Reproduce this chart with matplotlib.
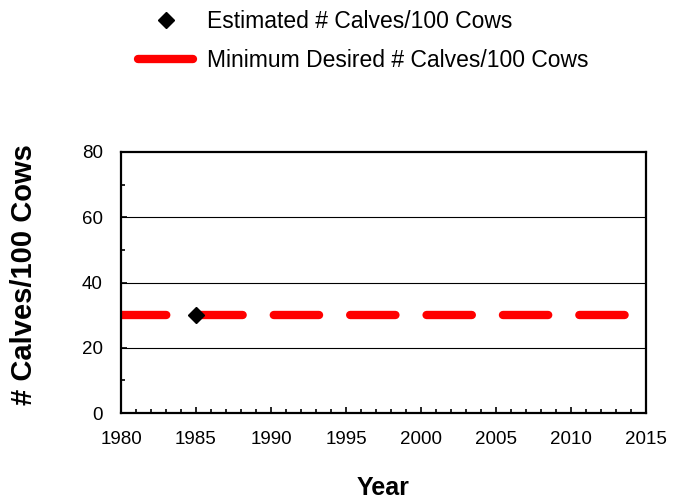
import matplotlib
matplotlib.use("Agg")
import matplotlib.pyplot as plt
from matplotlib.ticker import MultipleLocator

plt.rcParams['font.family'] = ['Liberation Sans', 'DejaVu Sans']
plt.rcParams['lines.scale_dashes'] = False

est_years = [1985]
est_calves = [30]
min_years = [1980, 2014]
min_calves = [30, 30]
xticks = [1980, 1985, 1990, 1995, 2000, 2005, 2010, 2015]
yticks = [0, 20, 40, 60, 80]

W, H = 681, 501
fig = plt.figure(figsize=(6.81, 5.01), dpi=100)
ax = fig.add_axes([121 / W, 1 - 413 / H, (646 - 121) / W, (413 - 152) / H])

for y in [20, 40, 60]:
    ax.axhline(y, color='black', lw=0.8, zorder=1)

ln, = ax.plot(min_years, min_calves, color='#ff0000', lw=6,
              linestyle=(0, (32.6, 22.4)), solid_capstyle='round',
              dash_capstyle='round', zorder=2,
              label='Minimum Desired # Calves/100 Cows')
pt, = ax.plot(est_years, est_calves, linestyle='none', marker='D', ms=8,
              color='black', zorder=3, label='Estimated # Calves/100 Cows')

ax.set_xlim(1980, 2015)
ax.set_ylim(0, 80)
ax.set_xticks(xticks)
ax.set_yticks(yticks)
ax.xaxis.set_minor_locator(MultipleLocator(1))
ax.yaxis.set_minor_locator(MultipleLocator(10))
ax.tick_params(axis='x', which='major', direction='in', length=4, width=1.2,
               labelsize=13.5, pad=13)
ax.tick_params(axis='y', which='major', direction='in', length=4, width=1.2,
               labelsize=13.5, pad=13)
ax.tick_params(axis='both', which='minor', direction='in', length=3, width=1.2)
for s in ax.spines.values():
    s.set_linewidth(1.6)

ax.set_xlabel('Year', fontsize=18, fontweight='bold', va='center')
ax.xaxis.set_label_coords(0.5, -(488 - 413) / (413 - 152))
ax.set_ylabel('# Calves/100 Cows', fontsize=21, fontweight='bold', va='center')
ax.yaxis.set_label_coords((24 - 121) / (646 - 121), (413 - 275) / (413 - 152))

leg = fig.legend([pt, ln], ['Estimated # Calves/100 Cows', 'Minimum Desired # Calves/100 Cows'],
                 loc='upper left', bbox_to_anchor=(138 / W, 1 - 10 / H), frameon=False,
                 fontsize=16.5, handlelength=2.4, handletextpad=0.6,
                 labelspacing=0.68, borderpad=0, borderaxespad=0)
leg.legend_handles[1].set_linestyle('-')

fig.savefig('out.png', dpi=100)
